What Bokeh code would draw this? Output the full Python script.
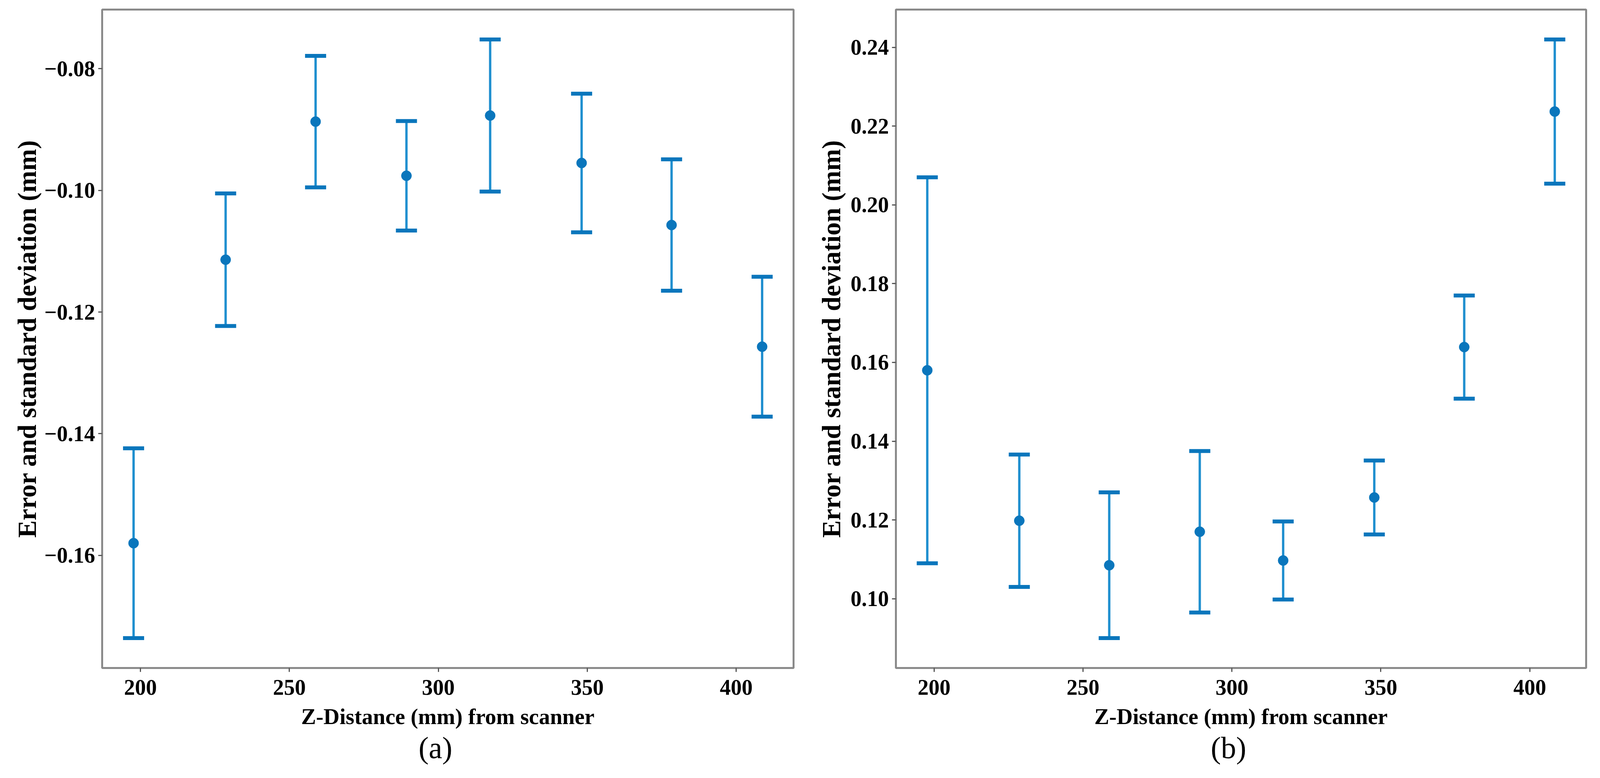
from bokeh.plotting import figure
from bokeh.layouts import row
from bokeh.models import FixedTicker, CustomJSTickFormatter, Title, Range1d, ColumnDataSource
from bokeh.embed import file_html
from bokeh.resources import INLINE

# ---- data ----
z_a = [197.7, 228.6, 258.8, 289.3, 317.4, 348.1, 378.3, 408.7]
mean_a = [-0.1580, -0.1114, -0.0887, -0.0976, -0.0877, -0.0955, -0.1057, -0.1257]
std_a = [0.0156, 0.0109, 0.0108, 0.0090, 0.0125, 0.0114, 0.0108, 0.0115]

z_b = [197.7, 228.6, 258.8, 289.2, 317.2, 347.8, 378.0, 408.4]
mean_b = [0.1580, 0.1198, 0.1085, 0.1170, 0.1097, 0.1257, 0.1639, 0.2237]
std_b = [0.0490, 0.0168, 0.0185, 0.0205, 0.0099, 0.0094, 0.0131, 0.0183]

xticks = [200, 250, 300, 350, 400]
yticks_a = [-0.16, -0.14, -0.12, -0.10, -0.08]
yticks_b = [0.10, 0.12, 0.14, 0.16, 0.18, 0.20, 0.22, 0.24]

x_label = "Z-Distance (mm) from scanner"
y_label = "Error and standard deviation (mm)"
captions = ["(a)", "(b)"]

FONT = "Liberation Serif"
MARK = "#0a76bc"
STEM = "#1f8fcf"


def padded(lo, hi, frac=0.05):
    d = hi - lo
    return lo - d * frac, hi + d * frac


def make_panel(z, mean, std, yticks, caption, width, left, right, ylab_standoff, cap_offset):
    lower = [m - s for m, s in zip(mean, std)]
    upper = [m + s for m, s in zip(mean, std)]
    x0, x1 = padded(min(z), max(z))
    y0, y1 = padded(min(lower), max(upper))
    p = figure(width=width, height=1975, output_backend="svg", toolbar_location=None,
               x_range=Range1d(x0, x1), y_range=Range1d(y0, y1),
               min_border_left=left, min_border_right=right,
               min_border_top=24, min_border_bottom=266)
    p.background_fill_color = "white"
    p.border_fill_color = "white"
    p.outline_line_color = "#8a8a8a"
    p.outline_line_width = 5
    p.xgrid.visible = False
    p.ygrid.visible = False

    src = ColumnDataSource(dict(z=z, mean=mean, lower=lower, upper=upper))
    p.segment(x0="z", y0="lower", x1="z", y1="upper", source=src,
              line_color=STEM, line_width=6)
    p.scatter(x="z", y="lower", source=src, marker="dash", size=54,
              line_color=MARK, line_width=10)
    p.scatter(x="z", y="upper", source=src, marker="dash", size=54,
              line_color=MARK, line_width=10)
    p.scatter(x="z", y="mean", source=src, marker="circle", size=26,
              fill_color=MARK, line_color=MARK)

    fmt = CustomJSTickFormatter(code="""
        return (tick < 0 ? "\\u2212" : "") + Math.abs(tick).toFixed(2);
    """)
    for ax in (p.xaxis[0], p.yaxis[0]):
        ax.axis_line_color = None
        ax.major_tick_in = 0
        ax.major_tick_out = 10
        ax.major_tick_line_width = 3
        ax.major_tick_line_color = "#555555"
        ax.minor_tick_line_color = None
        ax.major_label_text_font = FONT
        ax.major_label_text_font_style = "bold"
        ax.major_label_text_font_size = "56px"
        ax.major_label_text_color = "black"
        ax.axis_label_text_font = FONT
        ax.axis_label_text_font_style = "bold"
        ax.axis_label_text_color = "black"
    p.xaxis[0].axis_label_text_font_size = "57px"
    p.yaxis[0].axis_label_text_font_size = "67px"
    p.xaxis[0].ticker = FixedTicker(ticks=xticks)
    p.yaxis[0].ticker = FixedTicker(ticks=yticks)
    p.yaxis[0].formatter = fmt
    p.xaxis[0].axis_label = x_label
    p.yaxis[0].axis_label = y_label
    p.xaxis[0].major_label_standoff = 20
    p.yaxis[0].major_label_standoff = 8
    p.xaxis[0].axis_label_standoff = 21
    p.yaxis[0].axis_label_standoff = ylab_standoff

    t = Title(text=caption, align="left", text_font=FONT, text_font_style="normal",
              text_font_size="78px", text_color="black", offset=cap_offset, standoff=0)
    p.add_layout(t, "below")
    return p


pa = make_panel(z_a, mean_a, std_a, yticks_a, captions[0], 2071, 261, 40, 5, 810)
pb = make_panel(z_b, mean_b, std_b, yticks_b, captions[1], 2019, 222, 30, 10, 806)

layout = row(pa, pb, spacing=0)
open("out.html", "w").write(file_html(layout, INLINE))
